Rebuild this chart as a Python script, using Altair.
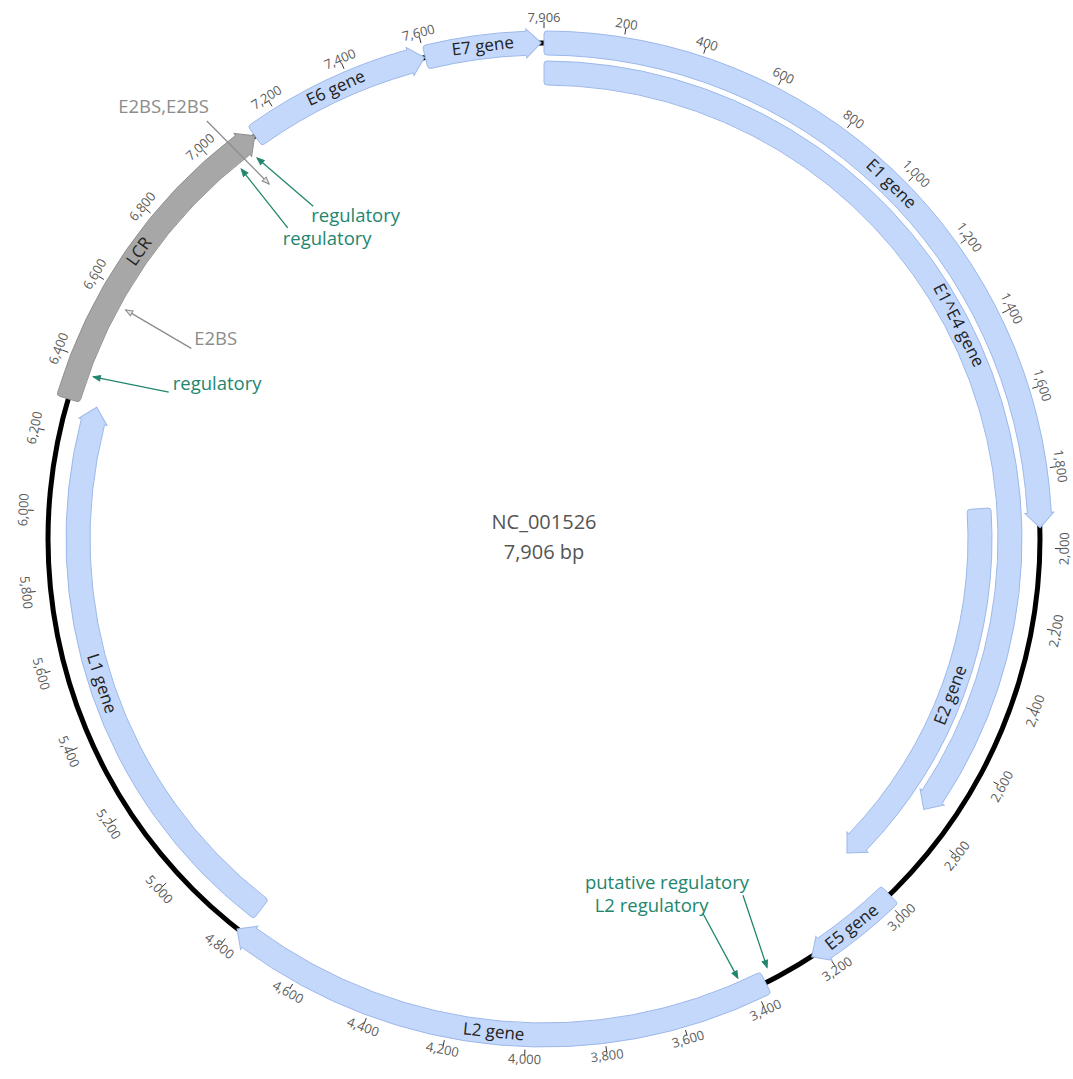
import altair as alt
import pandas as pd

# ---------------------------------------------------------------------------
# Sequence and annotation data (map coordinates in bp)
# ---------------------------------------------------------------------------
GENOME_LENGTH = 7906
SEQUENCE_ID = "NC_001526"

feature_names = ["E1 gene", "E1^E4 gene", "E2 gene", "E5 gene", "L2 gene",
                 "L1 gene", "LCR", "E6 gene", "E7 gene"]
feature_starts = [1, 1, 1890, 2984, 3371, 4775, 6291, 7124, 7603]
feature_ends = [1948, 2755, 2987, 3236, 4792, 6290, 7123, 7600, 7899]
feature_tracks = [0, 1, 2, 0, 0, 1, 0, 0, 0]
feature_kinds = ["gene", "gene", "gene", "gene", "gene", "gene", "region", "gene", "gene"]

site_labels = ["E2BS,E2BS", "regulatory", "regulatory", "E2BS", "regulatory",
               "putative regulatory", "L2 regulatory"]
site_positions = [7077, 7094, 7043, 6560, 6364, 3349, 3430]
site_kinds = ["binding", "regulatory", "regulatory", "binding", "regulatory",
              "regulatory", "regulatory"]

tick_positions = [200, 400, 600, 800, 1000, 1200, 1400, 1600, 1800, 2000,
                  2200, 2400, 2600, 2800, 3000, 3200, 3400, 3600, 3800, 4000,
                  4200, 4400, 4600, 4800, 5000, 5200, 5400, 5600, 5800, 6000,
                  6200, 6400, 6600, 6800, 7000, 7200, 7400, 7600, 7906]

# ---------------------------------------------------------------------------
# Layout and style
# ---------------------------------------------------------------------------
W, H = 1073, 1079
CX, CY = 544, 539
TRACK_R = [496, 466, 436]
BAND_HALF = 12
HEAD_LEN = 15
HEAD_HALF = 14.5
K = 16  # symbol half-extent in px for the arrowhead path
TICK_IN, TICK_OUT, TICK_TEXT = 511, 517, 521

FONT = "Open Sans"
BLUE_FILL, BLUE_STROKE = "#c4d8fb", "#9cb8ea"
GREY_FILL, GREY_STROKE = "#a7a7a7", "#929292"
TEAL = "#22866f"
SITE_GREY = "#8c8c8c"

# label anchor for each callout: (anchor bp, anchor radius, end radius, align, dx, dy)
CALLOUT_LAYOUT = [
    (7052, 537, 449, "right", 2, -14),
    (7143, 405, 477, "left", -2, 10),
    (7039, 403, 478, "left", -5, 11),
    (6553, 401, 477, "left", 3, -9),
    (6399, 403, 479, "left", 4, -8),
    (3312, 408, 483, "right", 6, -12),
    (3448, 406, 480, "right", 6, -7),
]

G = GENOME_LENGTH


def ang(bp):
    return f"(2*PI*({bp})/{G})"


def px(bp, r):
    return f"{CX} + ({r})*sin({ang(bp)})"


def py(bp, r):
    return f"{CY} - ({r})*cos({ang(bp)})"


READABLE = "((cos(datum.{a}) >= 0 ? datum.{a}*180/PI : datum.{a}*180/PI + 180) % 360)"

# ---------------------------------------------------------------------------
# Tables
# ---------------------------------------------------------------------------
features = pd.DataFrame({
    "name": feature_names,
    "start": feature_starts,
    "end": feature_ends,
    "track": feature_tracks,
    "kind": feature_kinds,
})
ticks = pd.DataFrame({"pos": tick_positions,
                      "label": [f"{p:,}" for p in tick_positions]})
sites = pd.DataFrame({
    "label": site_labels,
    "site": site_positions,
    "kind": site_kinds,
    "anchor": [c[0] for c in CALLOUT_LAYOUT],
    "r_from": [c[1] for c in CALLOUT_LAYOUT],
    "r_to": [c[2] for c in CALLOUT_LAYOUT],
    "align": [c[3] for c in CALLOUT_LAYOUT],
    "dx": [c[4] for c in CALLOUT_LAYOUT],
    "dy": [c[5] for c in CALLOUT_LAYOUT],
})
backbone = pd.DataFrame({"start": [0], "end": [GENOME_LENGTH]})
centre = pd.DataFrame({"text": [SEQUENCE_ID, f"{GENOME_LENGTH:,} bp"], "row": [0, 1]})

kind_fill = alt.Scale(domain=["gene", "region"], range=[BLUE_FILL, GREY_FILL])
kind_stroke = alt.Scale(domain=["gene", "region"], range=[BLUE_STROKE, GREY_STROKE])
site_col = alt.Scale(domain=["binding", "regulatory"], range=[SITE_GREY, TEAL])
site_fill = alt.Scale(domain=["binding", "regulatory"], range=["#e4e4e4", TEAL])

X = lambda f: alt.X(f"{f}:Q", scale=None, axis=None)
Y = lambda f: alt.Y(f"{f}:Q", scale=None, axis=None)

# ---------------------------------------------------------------------------
# Backbone ring
# ---------------------------------------------------------------------------
ring = alt.Chart(backbone).transform_calculate(
    t0=ang("datum.start"), t1=ang("datum.end"), ro="498.5", ri="493.5"
).mark_arc(color="black").encode(
    theta=alt.Theta("t0:Q", scale=None),
    theta2=alt.Theta2("t1:Q"),
    radius=alt.Radius("ro:Q", scale=None),
    radius2=alt.Radius2("ri:Q"),
    x=alt.value(CX), y=alt.value(CY),
)

# ---------------------------------------------------------------------------
# Feature bands, arrowheads and labels
# ---------------------------------------------------------------------------
feat_base = alt.Chart(features).transform_calculate(
    r=f"{TRACK_R}[datum.track]",
    t0=ang("datum.start - 1"),
    t1=ang("datum.end"),
).transform_calculate(
    tb=f"datum.t1 - {HEAD_LEN}/datum.r",
    tm="(datum.t0 + datum.t1)/2",
    ro=f"datum.r + {BAND_HALF}",
    ri=f"datum.r - {BAND_HALF}",
).transform_calculate(
    te="datum.tb + 2/datum.r",
    hx=f"{CX} + datum.r*sin(datum.tb)",
    hy=f"{CY} - datum.r*cos(datum.tb)",
    hang="((datum.tb*180/PI) % 360 + 360) % 360",
    lx=f"{CX} + datum.r*sin(datum.tm)",
    ly=f"{CY} - datum.r*cos(datum.tm)",
    lang=READABLE.format(a="tm"),
)

bands = feat_base.mark_arc(cornerRadius=3, strokeWidth=1).encode(
    theta=alt.Theta("t0:Q", scale=None),
    theta2=alt.Theta2("te:Q"),
    radius=alt.Radius("ro:Q", scale=None),
    radius2=alt.Radius2("ri:Q"),
    x=alt.value(CX), y=alt.value(CY),
    fill=alt.Fill("kind:N", scale=kind_fill, legend=None),
    stroke=alt.Stroke("kind:N", scale=kind_stroke, legend=None),
)

b = BAND_HALF / K
hh = HEAD_HALF / K
hl = HEAD_LEN / K
head_path = f"M0,{-b:.3f}L0,{-hh:.3f}L{hl:.3f},0L0,{hh:.3f}L0,{b:.3f}"

heads = feat_base.mark_point(
    shape=head_path, filled=True, size=(2 * K) ** 2, opacity=1, strokeWidth=1
).encode(
    x=X("hx"), y=Y("hy"),
    angle=alt.Angle("hang:Q", scale=None),
    fill=alt.Fill("kind:N", scale=kind_fill, legend=None),
    stroke=alt.Stroke("kind:N", scale=kind_stroke, legend=None),
)

feat_labels = feat_base.mark_text(
    font=FONT, fontSize=17, color="#222222", align="center", baseline="middle"
).encode(
    x=X("lx"), y=Y("ly"),
    angle=alt.Angle("lang:Q", scale=None),
    text="name:N",
)

features_layer = alt.layer(bands, heads, feat_labels)

# ---------------------------------------------------------------------------
# Ruler ticks and labels
# ---------------------------------------------------------------------------
tick_base = alt.Chart(ticks).transform_calculate(
    a=ang("datum.pos"),
).transform_calculate(
    x1=f"{CX} + {TICK_IN}*sin(datum.a)", y1=f"{CY} - {TICK_IN}*cos(datum.a)",
    x2=f"{CX} + {TICK_OUT}*sin(datum.a)", y2=f"{CY} - {TICK_OUT}*cos(datum.a)",
    tx=f"{CX} + {TICK_TEXT}*sin(datum.a)", ty=f"{CY} - {TICK_TEXT}*cos(datum.a)",
    ta=READABLE.format(a="a"),
)
tick_marks = tick_base.mark_rule(color="#333333", strokeWidth=1).encode(
    x=X("x1"), y=Y("y1"), x2="x2:Q", y2="y2:Q"
)
tick_labels = tick_base.mark_text(
    font=FONT, fontSize=13, color="#5c5c5c", align="center", baseline="middle"
).encode(
    x=X("tx"), y=Y("ty"),
    angle=alt.Angle("ta:Q", scale=None),
    text="label:N",
)

# ---------------------------------------------------------------------------
# Site callouts
# ---------------------------------------------------------------------------
site_base = alt.Chart(sites).transform_calculate(
    xs=px("datum.anchor", "datum.r_from"),
    ys=py("datum.anchor", "datum.r_from"),
    xe=px("datum.site", "datum.r_to"),
    ye=py("datum.site", "datum.r_to"),
).transform_calculate(
    tx="datum.xs + datum.dx",
    ty="datum.ys + datum.dy",
    da="(atan2(datum.ye - datum.ys, datum.xe - datum.xs)*180/PI + 360) % 360",
)

site_lines = site_base.mark_rule(strokeWidth=1.3).encode(
    x=X("xs"), y=Y("ys"), x2="xe:Q", y2="ye:Q",
    color=alt.Color("kind:N", scale=site_col, legend=None),
)
site_heads = site_base.mark_point(
    shape="M0,0L-1,-0.4L-1,0.4Z", filled=True, size=196, opacity=1, strokeWidth=1
).encode(
    x=X("xe"), y=Y("ye"),
    angle=alt.Angle("da:Q", scale=None),
    fill=alt.Fill("kind:N", scale=site_fill, legend=None),
    stroke=alt.Stroke("kind:N", scale=site_col, legend=None),
)


def site_text(align):
    return site_base.transform_filter(f"datum.align == '{align}'").mark_text(
        font=FONT, fontSize=18.5, align=align, baseline="middle"
    ).encode(
        x=X("tx"), y=Y("ty"),
        text="label:N",
        color=alt.Color("kind:N", scale=site_col, legend=None),
    )


sites_layer = alt.layer(site_lines, site_heads, site_text("left"), site_text("right"))

# ---------------------------------------------------------------------------
# Centre caption
# ---------------------------------------------------------------------------
caption = alt.Chart(centre).transform_calculate(
    cy=f"{CY} - 16 + datum.row*30"
).mark_text(
    font=FONT, fontSize=20, color="#555555", align="center", baseline="middle"
).encode(
    x=alt.value(CX), y=Y("cy"), text="text:N"
)

chart = alt.layer(
    ring, features_layer, tick_marks, tick_labels, sites_layer, caption,
).resolve_scale(
    fill="independent", stroke="independent", color="independent"
).properties(
    width=W, height=H, padding=0,
    autosize=alt.AutoSizeParams(type="none"),
).configure_view(stroke=None)

chart.save("out.html", embed_options={"renderer": "svg", "actions": False})
